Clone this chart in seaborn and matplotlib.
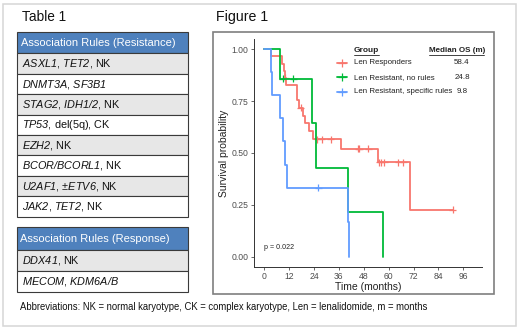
import numpy as np
import pandas as pd
import matplotlib
matplotlib.use("Agg")
import matplotlib.pyplot as plt
import seaborn as sns
from matplotlib.patches import Rectangle

# ---- data ----
groups = ["Len Responders", "Len Resistant, no rules", "Len Resistant, specific rules"]
colors = ["#F8766D", "#00BA38", "#619CFF"]
median_os = ["58.4", "24.8", "9.8"]

# follow-up times (months) and event flags (1 = death, 0 = censored)
resp_time = [3.2, 8.7, 9.6, 10.0, 10.2, 10.5, 15.6, 16.0, 17.0, 17.6, 18.6, 19.8, 21.6, 23.7,
             25.5, 27.7, 32.0, 37.2, 45.3, 45.8, 50.2, 54.7, 55.5, 56.2, 57.9, 64.6, 67.1, 70.3, 90.9]
resp_event = [1, 1, 1, 1, 0, 1, 1, 1, 1, 0, 1, 1, 1, 1,
              0, 0, 0, 1, 0, 0, 0, 1, 0, 0, 0, 0, 0, 1, 0]
norule_time = [7.6, 8.9, 14.0, 23.2, 24.8, 40.5, 57.3]
norule_event = [1, 0, 0, 1, 1, 1, 1]
spec_time = [3.2, 3.9, 7.6, 8.9, 9.8, 10.8, 26.0, 40.5, 41.1]
spec_event = [1, 1, 1, 1, 1, 1, 0, 1, 1]

resistance_rules = [
    r"$\mathit{ASXL1}$, $\mathit{TET2}$, NK",
    r"$\mathit{DNMT3A}$, $\mathit{SF3B1}$",
    r"$\mathit{STAG2}$, $\mathit{IDH1/2}$, NK",
    r"$\mathit{TP53}$, del(5q), CK",
    r"$\mathit{EZH2}$, NK",
    r"$\mathit{BCOR/BCORL1}$, NK",
    r"$\mathit{U2AF1}$, ±$\mathit{ETV6}$, NK",
    r"$\mathit{JAK2}$, $\mathit{TET2}$, NK",
]
response_rules = [
    r"$\mathit{DDX41}$, NK",
    r"$\mathit{MECOM}$, $\mathit{KDM6A/B}$",
]

sns.set_style("ticks")
plt.rcParams['font.family'] = ['Liberation Sans', 'DejaVu Sans']
plt.rcParams['mathtext.fontset'] = 'custom'
plt.rcParams['mathtext.it'] = 'Liberation Sans:italic'
plt.rcParams['mathtext.rm'] = 'Liberation Sans:italic'


def km_steps(times, events):
    t = np.asarray(times, float)
    e = np.asarray(events)
    order = np.argsort(t, kind="stable")
    t, e = t[order], e[order]
    n = len(t)
    s = 1.0
    xs, ys, cx, cy = [0.0], [1.0], [], []
    for ti, ei in zip(t, e):
        if ei:
            s *= (n - 1) / n
            xs.append(ti)
            ys.append(s)
        else:
            cx.append(ti)
            cy.append(s)
        n -= 1
    if xs[-1] < t.max():
        xs.append(t.max())
        ys.append(s)
    return xs, ys, cx, cy


curves, censors = [], []
for g, tt, ee in zip(groups, [resp_time, norule_time, spec_time], [resp_event, norule_event, spec_event]):
    xs, ys, cx, cy = km_steps(tt, ee)
    curves.append(pd.DataFrame({"time": xs, "surv": ys, "group": g}))
    censors.append(pd.DataFrame({"time": cx, "surv": cy, "group": g}))
curve_df = pd.concat(curves, ignore_index=True)
cens_df = pd.concat(censors, ignore_index=True)
pal = dict(zip(groups, colors))

W, H = 520, 331
fig = plt.figure(figsize=(W / 100, H / 100), dpi=100)
fig.patch.set_facecolor("white")

# ---- KM plot ----
ax = fig.add_axes([254.3 / W, 1 - 266.7 / H, (481.7 - 254.3) / W, (266.7 - 39.3) / H])
sns.lineplot(data=curve_df, x="time", y="surv", hue="group", palette=pal, estimator=None,
             sort=False, drawstyle="steps-post", linewidth=1.3, legend=False, ax=ax)
sns.scatterplot(data=cens_df, x="time", y="surv", hue="group", palette=pal, marker="+",
                s=26, linewidth=0.9, legend=False, ax=ax)
ax.set_xlim(-4.8, 104.9)
ax.set_ylim(-0.048, 1.048)
ax.set_xticks(np.arange(0, 97, 12))
ax.set_yticks([0, 0.25, 0.5, 0.75, 1.0])
ax.set_yticklabels(["0.00", "0.25", "0.50", "0.75", "1.00"])
ax.tick_params(labelsize=6.2, colors="#4d4d4d", length=2.5, width=0.6, pad=1.5, labelcolor="#4d4d4d")
for sp in ["top", "right"]:
    ax.spines[sp].set_visible(False)
for sp in ["left", "bottom"]:
    ax.spines[sp].set_color("#333333")
    ax.spines[sp].set_linewidth(0.7)
ax.set_xlabel("Time (months)", fontsize=7.5, color="#222222")
ax.set_ylabel("Survival probability", fontsize=7.5, color="#222222")
ax.xaxis.set_label_coords(0.5, -0.09)
ax.xaxis.label.set_va("center")
ax.yaxis.set_label_coords(-0.135, 0.5)
ax.yaxis.label.set_va("center")
ax.text(0, 0.045, "p = 0.022", fontsize=5.1, ha="left", va="center", color="#222222")

# ---- overlay in pixel coordinates ----
ov = fig.add_axes([0, 0, 1, 1], zorder=5)
ov.set_xlim(0, W)
ov.set_ylim(H, 0)
ov.axis("off")
ov.patch.set_alpha(0)

ov.add_patch(Rectangle((3, 4), 513, 322, fill=False, edgecolor="#d6d6d6", lw=1.1))
ov.add_patch(Rectangle((213, 32), 281, 262, fill=False, edgecolor="#7f7f7f", lw=1.2))

ov.text(21.5, 17, "Table 1", fontsize=9.8, ha="left", va="center", color="#111111")
ov.text(216.5, 17.5, "Figure 1", fontsize=10.2, ha="left", va="center", color="#111111")


def draw_table(header, rows, x0, x1, top, head_h, row_h):
    ov.add_patch(Rectangle((x0, top), x1 - x0, head_h, facecolor="#4F81BD", edgecolor="#3a3a3a", lw=0.8))
    ov.text(x0 + 3.7, top + head_h / 2, header, fontsize=8, color="white", ha="left", va="center")
    y = top + head_h
    for i, r in enumerate(rows):
        fc = "#e7e7e7" if i % 2 == 0 else "white"
        ov.add_patch(Rectangle((x0, y), x1 - x0, row_h, facecolor=fc, edgecolor="#3a3a3a", lw=0.8))
        ov.text(x0 + 5.5, y + row_h / 2 + 0.5, r, fontsize=7.8, color="#111111", ha="left", va="center")
        y += row_h


draw_table("Association Rules (Resistance)", resistance_rules, 17, 188, 31.7, 21.6, 20.4)
draw_table("Association Rules (Response)", response_rules, 16.5, 187.5, 227.3, 22.7, 20.8)

ov.text(20, 307.5, "Abbreviations: NK = normal karyotype, CK = complex karyotype, Len = lenalidomide, m = months",
        fontsize=6.85, ha="left", va="center", color="#111111")

# ---- legend ----
ov.text(354, 50.5, "Group", fontsize=6, fontweight="bold", ha="left", va="center", color="#222222")
ov.plot([354, 379], [54.5, 54.5], color="#222222", lw=0.6)
ov.text(428.7, 50.5, "Median OS (m)", fontsize=5.8, fontweight="bold", ha="left", va="center", color="#222222")
ov.plot([428.7, 483.5], [54.5, 54.5], color="#222222", lw=0.6)
for g, c, m, yy in zip(groups, colors, median_os, [62.7, 77.3, 91.7]):
    ov.plot([336.7, 346.7], [yy, yy], color=c, lw=1.3)
    ov.plot([341.7], [yy], marker="+", color=c, ms=6, mew=0.9)
    ov.text(354, yy, g, fontsize=5.7, ha="left", va="center", color="#222222")
    ov.text(462, yy, m, fontsize=5.7, ha="center", va="center", color="#222222")

fig.savefig("out.png", dpi=100, facecolor="white")
